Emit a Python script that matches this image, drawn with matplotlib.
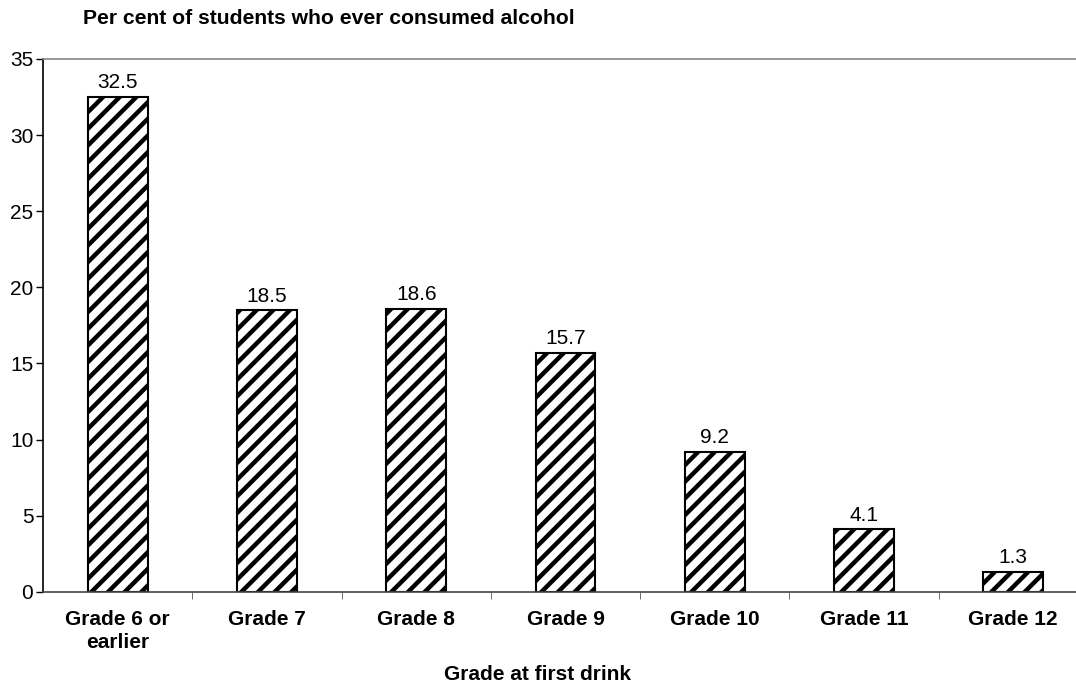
import numpy as np
import matplotlib.pyplot as plt

plt.rcParams['font.family'] = ['Liberation Sans', 'DejaVu Sans']
plt.rcParams['hatch.linewidth'] = 3.2
plt.rcParams['hatch.color'] = 'black'

categories = ["Grade 6 or\nearlier", "Grade 7", "Grade 8", "Grade 9",
              "Grade 10", "Grade 11", "Grade 12"]
values = [32.5, 18.5, 18.6, 15.7, 9.2, 4.1, 1.3]

fig = plt.figure(figsize=(10.76, 6.85), dpi=100, facecolor='white')
ax = fig.add_axes([0.040, 0.136, 0.960, 0.778])

x = np.arange(len(categories))
bars = ax.bar(x, values, width=0.4, color='white', edgecolor='black',
              linewidth=1.5, hatch='//')

for xi, v in zip(x, values):
    ax.text(xi, v + 0.3, f"{v}", ha='center', va='bottom', fontsize=15)

ax.set_xlim(-0.5, 6.42)
ax.set_ylim(0, 35)
ax.set_yticks(range(0, 36, 5))
ax.tick_params(axis='y', labelsize=15, length=5, width=1, direction='out', pad=2)

ax.set_xticks(x)
ax.set_xticklabels(categories, fontsize=15, fontweight='bold', linespacing=1.25)
ax.tick_params(axis='x', length=0, pad=13)
ax.set_xticks(x[:-1] + 0.5, minor=True)
ax.tick_params(axis='x', which='minor', length=5, color='#555555', direction='out')

ax.spines['right'].set_visible(False)
ax.spines['top'].set_color('#888888')
ax.spines['left'].set_color('black')
ax.spines['bottom'].set_color('#444444')
for s in ax.spines.values():
    s.set_linewidth(1.2)

fig.text(0.077, 0.965, "Per cent of students who ever consumed alcohol",
         fontsize=15.2, fontweight='bold', va='baseline', ha='left')
fig.text(0.5, 0.008, "Grade at first drink", fontsize=15,
         fontweight='bold', ha='center', va='baseline')

fig.savefig('out.png', dpi=100, facecolor='white')
